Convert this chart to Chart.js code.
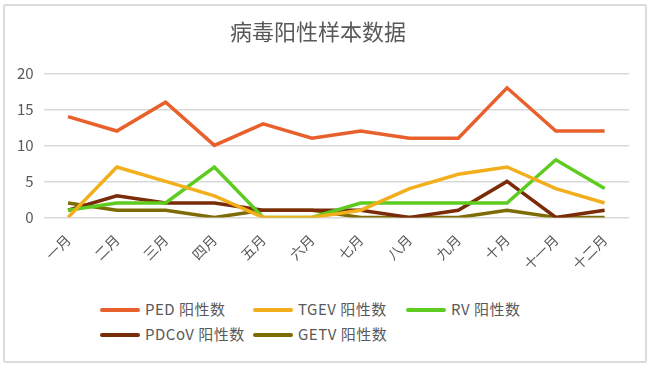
<!DOCTYPE html>
<html>
<head>
<meta charset="utf-8">
<script src="https://cdn.jsdelivr.net/npm/chart.js@4"></script>
<style>
  body { margin: 0; background: #fff; }
  #frame {
    position: absolute; left: 3px; top: 4px; width: 640px; height: 355px;
    border: 2px solid #dcdcdc; border-radius: 2px;
  }
  #wrap { position: absolute; left: 0; top: 0; width: 650px; height: 279px; }
  #legend {
    position: absolute; left: 100px; top: 299px;
    font-family: "Noto Sans CJK SC", "Noto Sans", sans-serif; font-size: 15px; color: #595959;
  }
  .item { position: absolute; white-space: nowrap; height: 22px; line-height: 22px; }
  .item span.line {
    position: absolute; left: 0; top: 9px; width: 40px; height: 4px; border-radius: 2px;
  }
  .item span.txt { position: absolute; left: 45px; top: -1px; letter-spacing: 0.5px; }
</style>
</head>
<body>
<div id="frame"></div>
<div id="wrap"><canvas id="chart"></canvas></div>
<div id="legend"></div>
<script>
const months = ["一月", "二月", "三月", "四月", "五月", "六月", "七月", "八月", "九月", "十月", "十一月", "十二月"];
const ped = [14, 12, 16, 10, 13, 11, 12, 11, 11, 18, 12, 12];
const tgev = [0, 7, 5, 3, 0, 0, 1, 4, 6, 7, 4, 2];
const rv = [1, 2, 2, 7, 0, 0, 2, 2, 2, 2, 8, 4];
const pdcov = [1, 3, 2, 2, 1, 1, 1, 0, 1, 5, 0, 1];
const getv = [2, 1, 1, 0, 1, 1, 0, 0, 0, 1, 0, 0];

const seriesNames = ["PED 阳性数", "TGEV 阳性数", "RV 阳性数", "PDCoV 阳性数", "GETV 阳性数"];
const seriesColors = ["#E8602B", "#F3AE1C", "#5DCB1F", "#7A2B07", "#7D6B04"];
const seriesData = [ped, tgev, rv, pdcov, getv];

const font = "'Noto Sans CJK SC', 'Noto Sans', sans-serif";

const datasets = seriesData.map((d, i) => ({
    label: seriesNames[i],
    data: d,
    borderColor: seriesColors[i],
    backgroundColor: seriesColors[i],
    borderWidth: 3.5,
    pointRadius: 0,
    tension: 0,
    order: i
}));

new Chart(document.getElementById("chart"), {
    type: "line",
    data: { labels: months, datasets: datasets },
    options: {
        responsive: true,
        maintainAspectRatio: false,
        animation: false,
        layout: { padding: { left: 7, right: 21, bottom: 0 } },
        plugins: {
            legend: { display: false },
            tooltip: { enabled: false },
            title: {
                display: true,
                text: "病毒阳性样本数据",
                color: "#595959",
                font: { family: font, size: 22, weight: "normal" },
                padding: { top: 18, bottom: 29 }
            }
        },
        scales: {
            x: {
                offset: true,
                grid: { display: false },
                border: { display: false },
                ticks: {
                    color: "#595959",
                    font: { family: font, size: 14 },
                    minRotation: 45,
                    maxRotation: 45,
                    padding: 6
                }
            },
            y: {
                min: 0,
                max: 20,
                grid: { color: "#d9d9d9", lineWidth: 1.5, drawTicks: false },
                border: { display: false },
                ticks: {
                    stepSize: 5,
                    color: "#595959",
                    font: { family: font, size: 15 },
                    padding: 10
                }
            }
        }
    }
});

const legend = document.getElementById("legend");
const cols = [0, 153, 306];
seriesNames.forEach((name, i) => {
    const el = document.createElement("div");
    el.className = "item";
    el.style.left = cols[i % 3] + "px";
    el.style.top = (Math.floor(i / 3) * 25) + "px";
    el.innerHTML = '<span class="line" style="background:' + seriesColors[i] + '"></span><span class="txt">' + name + '</span>';
    legend.appendChild(el);
});
</script>
</body>
</html>
